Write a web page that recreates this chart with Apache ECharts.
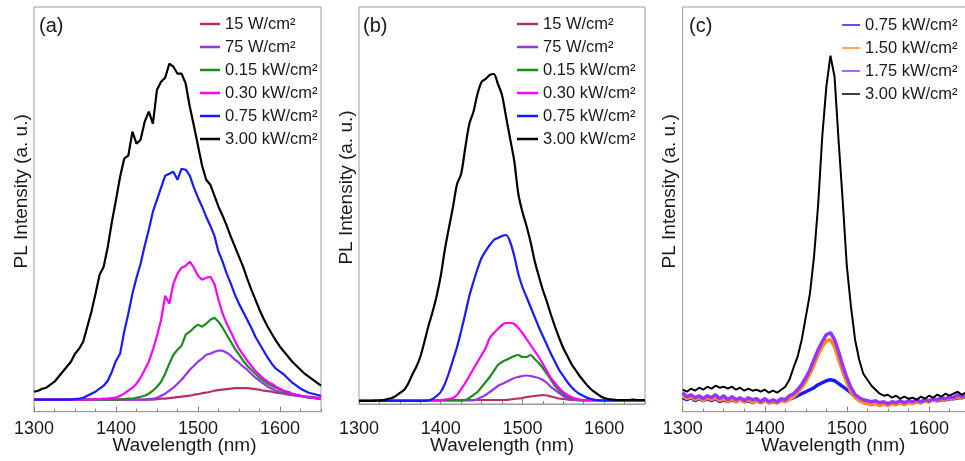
<!DOCTYPE html>
<html><head><meta charset="utf-8">
<script src="https://cdn.jsdelivr.net/npm/echarts@6/dist/echarts.min.js"></script>
<style>html,body{margin:0;padding:0;background:#fff}#c{width:965px;height:461px}</style>
</head><body><div id="c"></div>
<script>
// Wavelength grid (nm)
const wavelength = [1300,1305,1310,1315,1320,1325,1330,1335,1340,1345,1350,1355,1360,1365,1370,1375,1380,1385,1390,1395,1400,1405,1410,1415,1420,1425,1430,1435,1440,1445,1450,1455,1460,1465,1470,1475,1480,1485,1490,1495,1500,1505,1510,1515,1520,1525,1530,1535,1540,1545,1550,1555,1560,1565,1570,1575,1580,1585,1590,1595,1600,1605,1610,1615,1620,1625,1630,1635,1640,1645,1650];
const xTicks = [1300,1400,1500,1600];

// Legend names
const namesA = ['15 W/cm²','75 W/cm²','0.15 kW/cm²','0.30 kW/cm²','0.75 kW/cm²','3.00 kW/cm²'];
const namesC = ['0.75 kW/cm²','1.50 kW/cm²','1.75 kW/cm²','3.00 kW/cm²'];

// Panel (a) PL intensity (a.u.)
const a_15W = [12,12,12,12,12,12,12,12,12,12, 12,12,12,12,12,12,12,12,12,12, 12,12,12,12,12,12,12,12,12,12,
  12.5,13,13,13.5,14,14.5,15,15.5,16,17, 17.5,18.5,19,20,21,21.5,22,22.5,23,23.5, 23.5,23.5,23.5,23,22.5,22,21,20.5,20,19,
  18.5,18,17,16.5,16,15.5,15,15,14.5,14, 14];
const a_75W = [12,12,12,12,12,12,12,12,12,12, 12,12,12,12,12,12,12,12,12,12, 12,12,12,12,12,12,12,12,12.5,13,
  14,16,18,21,24,28,32,37,42,46, 50,53,57,58,60,61,61,59,56,52, 49,45,42,38,34,31,28,25,23,21,
  19.5,18.5,17.5,17,16,15.5,15,14.5,14,13.5, 13];
const a_015 = [12,12,12,12,12,12,12,12,12,12, 12,12,12,12,12,12,12,12,12,12, 12,12,12.5,13,13,14,15,16,18,21,
  25,30,38,48,57,62,66,77,80,84, 87,85,88,92,94,90,84,77,70,63, 57,51,46,42,38,34,31,28,26,24,
  22,20,19,18,17,16,15,14,14,13, 13];
const a_030 = [12,12,12,12,12,12,12,12,12,12, 12,12,12,12,12,12.5,12.5,13,13,13.5, 14,16,18,21,24,28,34,42,50,62,
  76,92,116,108,128,138,144,146,150,144, 136,132,134,135,128,112,98,88,80,71, 63,57,51,46,41,37,33,30,28,25,
  23,21,20,18,17,16,15,14,14,13, 13];
const a_075 = [12,12,12,12,12,12,12,12,12,12, 12.5,13,14,16,18,20,23,26,31,40, 51,58,80,98,118,134,148,166,182,200,
  212,224,236,238,240,232,243,242,236,224, 214,205,195,186,176,160,150,138,128,117, 108,100,92,84,75,68,61,54,48,43,
  40,37,33,29,26,23,21,19,18,17, 16];
const a_300 = [20,21,23,24,27,30,35,40,45,50, 58,63,70,85,100,118,137,145,165,190, 212,235,253,256,280,268,272,290,300,288,
  322,330,334,348,345,338,338,328,305,286, 266,246,232,227,216,205,196,186,175,165, 155,145,133,122,112,102,93,85,78,71,
  65,60,55,50,46,42,38,35,32,29, 26];

// Panel (b) PL intensity (a.u.)
const b_15W = [4,4,4,4,4,4,4,4,4,4, 4,4,4,4,4,4,4,4,4,4, 4,4,4,4,4,4,4,4,4,4,
  4,4,4,4,4,4,4,4.5,5,5.5, 6,7,7.5,8,8.5,9,8.5,7.5,6.5,5.5, 5,4.5,4,4,4,4,4,4,4,4,
  4,4,4,4,4,4,4,4,4,4, 4];
const b_75W = [3.5,3.5,3.5,3.5,3.5,3.5,3.5,3.5,3.5,3.5, 3.5,3.5,3.5,3.5,3.5,3.5,3.5,3.5,3.5,3.5, 3.5,3.5,3.5,3.5,3.5,3.5,3.5,3.5,3.5,5,
  7,9,12,15,18,20,22,24,26,27, 28,28.5,28,27,26,24,21,17,14,11, 8,6,5,4,3.5,3.5,3.5,3.5,3.5,3.5,
  3.5,3.5,3.5,3.5,3.5,3.5,3.5,3.5,3.5,3.5, 3.5];
const b_015 = [3.5,3.5,3.5,3.5,3.5,3.5,3.5,3.5,3.5,3.5, 3.5,3.5,3.5,3.5,3.5,3.5,3.5,3.5,3.5,3.5, 3.5,3.5,3.5,3.5,3.5,3.5,4,6,9,12,
  17,22,27,33,39,42,44,46,48,49, 47,47,49,45,41,36,30,24,18,14, 10,8,6,5,4,3.5,3.5,3.5,3.5,3.5,
  3.5,3.5,3.5,3.5,3.5,3.5,3.5,3.5,3.5,3.5, 3.5];
const b_030 = [3.5,3.5,3.5,3.5,3.5,3.5,3.5,3.5,3.5,3.5, 3.5,3.5,3.5,3.5,3.5,3.5,3.5,3.5,3.5,3.5, 4,4.5,5,6,9,15,21,28,35,42,
  49,56,66,71,75,79,81,81,80,76, 71,65,59,53,47,40,33,26,21,16, 12,9,7,5.5,4.5,4,4,4,4,4,
  4,4,4,4,4,4,4,4,4,4, 4];
const b_075 = [3,3,3,3,3,3,3,3,3,3, 3,3,3,3,3,3,3,3.5,5,8, 12,20,31,44,57,73,90,108,122,135,
  146,153,159,164,166,168,169,162,148,130, 117,107,97,87,77,68,59,50,42,34, 28,22,17,13,10,8,6,5,4,3.5,
  3.5,3.5,3.5,3.5,3.5,3.5,3.5,3.5,3.5,3.5, 3.5];
const b_300 = [3,3,3,3,3.5,3.5,4,5,6,8, 11,14,20,29,37,47,62,78,92,108, 128,154,176,197,220,230,256,280,292,310,
  322,325,329,330,320,309,287,265,243,210, 192,178,162,143,128,114,102,89,77,66, 56,48,40,34,28,23,18,14,11,8,
  6,5,4.5,4,4,4,4,4.5,4,4, 4];

// Panel (c) PL intensity (a.u.)
const c_075 = [14,12,14,11,13,11,13,11,13,10, 12,10,12,10,12,10,11,9,11,9, 11,9,10,9,11,11,13,14,16,18,
  20,22,24,27,29,31,32,31,28,25, 22,19,15,12,10,9,8,9,7,9, 7,9,8,9,8,10,9,10,9,11,
  10,12,11,12,12,13,13,14,14,15, 15];
const c_150 = [16,13,15,12,14,11,14,12,14,11, 13,10,13,10,12,10,12,9,11,9, 11,9,10,9,11,10,12,15,19,24,
  30,38,47,57,65,71,72,65,52,40, 29,20,14,11,9,8,7,8,6,8, 6,8,7,9,7,9,8,10,9,11,
  10,12,11,13,12,14,13,15,14,16, 15];
const c_175 = [19,15,17,14,16,13,16,14,17,13, 16,12,15,12,14,11,14,12,13,10, 13,10,12,10,13,12,16,18,22,27,
  34,42,52,62,70,77,79,72,60,46, 34,24,17,14,12,11,10,11,9,10, 8,10,9,11,9,11,10,12,10,12,
  11,13,12,14,13,15,14,17,15,17, 16];
const c_300 = [22,20,23,21,24,22,25,23,26,24, 25,23,25,22,24,21,23,21,22,20, 22,19,21,19,22,25,32,44,55,72,
  95,118,155,207,275,325,356,335,270,210, 145,105,72,52,38,32,26,22,18,16, 17,14,16,13,15,13,14,12,15,13,
  16,14,17,15,18,16,18,20,17,19, 18];

const FONT = "'Liberation Sans', Arial, sans-serif";
const TXT = '#1a1a1a';
const FRAME = '#9a9a9a';

const grids = [
  {left:34, top:7, width:287, height:404.7},
  {left:359, top:7, width:286, height:397},
  {left:682.7, top:7, width:287.3, height:404.7}
];
const yMax = [404.7, 397, 404.7];
const labelMargin = [8, 16, 8];
const nameGapX = [25, 32, 25];

function pairs(ys){ return wavelength.map((x,i)=>[x, ys[i]]); }

const legendCommon = {orient:'vertical', itemHeight:2.5, itemGap:5, padding:0, icon:'rect',
  textStyle:{fontSize:16.5, lineHeight:18, color:TXT, fontFamily:FONT}};

const option = {
  animation:false,
  backgroundColor:'#fff',
  textStyle:{fontFamily:FONT},
  title:[
    {text:'(a)', left:39, top:16, padding:0, textStyle:{fontSize:20, fontWeight:'normal', color:TXT, fontFamily:FONT}},
    {text:'(b)', left:363, top:16, padding:0, textStyle:{fontSize:20, fontWeight:'normal', color:TXT, fontFamily:FONT}},
    {text:'(c)', left:689, top:16, padding:0, textStyle:{fontSize:20, fontWeight:'normal', color:TXT, fontFamily:FONT}}
  ],
  grid: grids.map(g=>Object.assign({show:true, borderColor:FRAME, borderWidth:1, backgroundColor:'transparent',
    containLabel:false, outerBoundsMode:'none'}, g)),
  xAxis: [],
  yAxis: [],
  legend:[
    Object.assign({}, legendCommon, {left:200, top:15, itemWidth:20, data:namesA, lineStyle:{width:2}}),
    Object.assign({}, legendCommon, {left:517, top:15, itemWidth:21, data:namesA, lineStyle:{width:2}}),
    Object.assign({}, legendCommon, {left:842, top:16, itemWidth:18, data:namesC, itemHeight:1.5, lineStyle:{width:1.5}})
  ],
  series:[]
};

for (let g=0; g<3; g++){
  option.xAxis.push({
    type:'value', gridIndex:g, min:1300, max:1650, interval:100,
    axisLine:{show:true, lineStyle:{color:FRAME, width:1}},
    axisTick:{show:true, inside:true, length:5, lineStyle:{color:'#777'}},
    splitLine:{show:false},
    axisLabel:{show:true, fontSize:18, color:TXT, margin:labelMargin[g], fontFamily:FONT, showMaxLabel:false,
      formatter:v=> xTicks.indexOf(v)>=0 ? String(v) : ''},
    name:'Wavelength (nm)', nameLocation:'middle', nameGap:nameGapX[g], nameMoveOverlap:false,
    nameTextStyle:{fontSize:19, color:TXT, fontFamily:FONT, padding: g===1 ? [0,0,0,0] : [0,0,0,14]}
  });
  option.xAxis.push({
    type:'value', gridIndex:g, min:1300, max:1650, interval:25, position:'bottom',
    axisLine:{show:false}, axisLabel:{show:false}, splitLine:{show:false},
    axisTick:{show:true, inside:true, length:3, lineStyle:{color:'#888'}}
  });
  option.yAxis.push({
    type:'value', gridIndex:g, min:0, max:yMax[g],
    axisLine:{show:false}, axisTick:{show:false}, axisLabel:{show:false}, splitLine:{show:false},
    name:'PL Intensity (a. u.)', nameLocation:'middle', nameGap:3, nameMoveOverlap:false,
    nameTextStyle:{fontSize:19, color:TXT, fontFamily:FONT, padding:[0,0,0,36]}
  });
}

function addSeries(name, data, color, g, width, smooth){
  option.series.push({
    type:'line', name:name, data:pairs(data), xAxisIndex:g*2, yAxisIndex:g,
    symbol:'none', showSymbol:false, smooth:smooth||false,
    lineStyle:{color:color, width:width}, itemStyle:{color:color}, z:2
  });
}
const colA = ['#b8306b','#9933ee','#1c8c1c','#ff00ff','#1a1aff','#000000'];
const dataA = [a_15W,a_75W,a_015,a_030,a_075,a_300];
const dataB = [b_15W,b_75W,b_015,b_030,b_075,b_300];
for (let i=0;i<6;i++) addSeries(namesA[i], dataA[i], colA[i], 0, 2.2, false);
for (let i=0;i<6;i++) addSeries(namesA[i], dataB[i], colA[i], 1, 2.2, 0.3);
const colC = ['#1a1aff','#ff8c1a','#9933ff','#000000'];
const dataC = [c_075,c_150,c_175,c_300];
addSeries(namesC[0], dataC[0], colC[0], 2, 3.5, false);
addSeries(namesC[1], dataC[1], colC[1], 2, 3.5, false);
addSeries(namesC[2], dataC[2], colC[2], 2, 3.5, false);
addSeries(namesC[3], dataC[3], colC[3], 2, 2, false);

const chart = echarts.init(document.getElementById('c'), null, {renderer:'canvas'});
chart.setOption(option);
</script></body></html>
